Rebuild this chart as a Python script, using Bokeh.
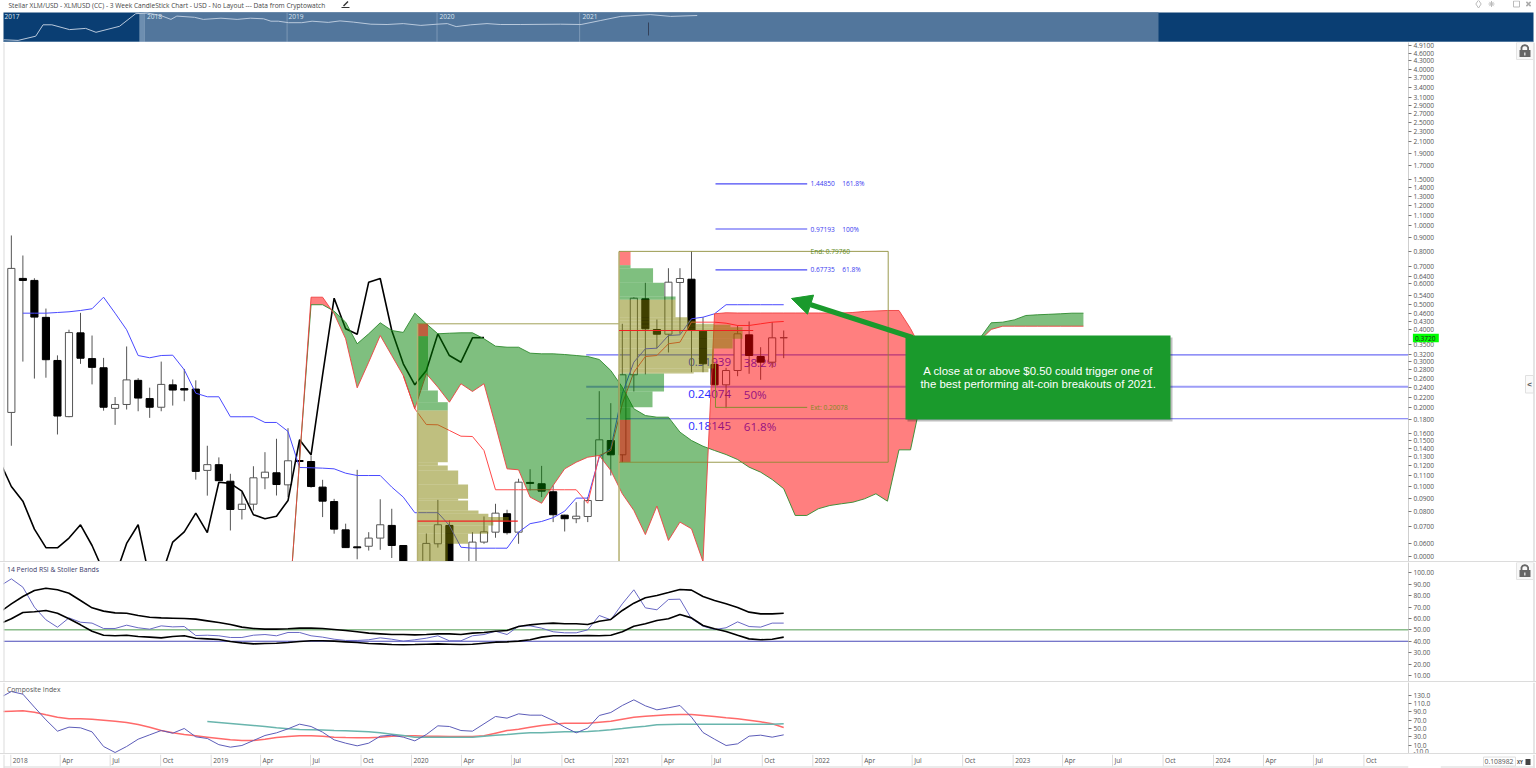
import numpy as np
import pandas as pd
from bokeh.core.properties import value
from bokeh.embed import file_html
from bokeh.layouts import column, row
from bokeh.models import (Arrow, Div, FixedTicker, NormalHead, PrintfTickFormatter,
                          Range1d, Span)
from bokeh.plotting import figure
from bokeh.resources import INLINE

FONT = value("Open Sans")
TITLE = "Stellar XLM/USD - XLMUSD (CC) - 3 Week CandleStick Chart - USD - No Layout --- Data from Cryptowatch"

# ---------- candles, one every 21 days from 2018-01-02
opens = [.192,.628,.617,.445,.304,.185,.388,.309,.285,.199,
         .206,.255,.217,.201,.245,.237,.236,.115,.121,.1045,
         .0814,.0853,.1077,.1126,.1012,.1255,.1244,.0992,.0873,.068,
         .0585,.0588,.0632,.0707,.0592,.046,.049,.0601,.0707,.047,
         .05,.061,.0666,.0784,.0666,.1034,.1022,.0952,.0774,.075,
         .0765,.0881,.1498,.132,.2678,.5244,.3997,.3834,.6058,.6236,
         .3938,.2933,.2451,.2782,.3813,.3148,.2994,.3714]
highs = [.918,.769,.629,.481,.318,.399,.463,.379,.311,.220,
         .344,.260,.239,.301,.257,.282,.255,.143,.129,.1116,
         .0949,.1193,.1351,.1521,.167,.1511,.1312,.1058,.0894,.0718,
         .1156,.0666,.0891,.0819,.0592,.049,.0658,.0886,.0739,.05,
         .0666,.0765,.0856,.0812,.1068,.1162,.1197,.1007,.0777,.0868,
         .0908,.2317,.2084,.4204,.5319,.604,.4368,.6873,.6873,.7976,
         .4457,.296,.2849,.4142,.4291,.3418,.4265,.3962]
lows = [.143,.301,.259,.261,.158,.184,.295,.246,.195,.172,
        .197,.194,.183,.194,.204,.212,.106,.092,.105,.0676,
        .0745,.0807,.0974,.0921,.0908,.1201,.0987,.0761,.0657,.058,
        .0524,.0566,.057,.053,.042,.04,.046,.0581,.045,.044,
        .047,.0601,.0634,.0652,.0601,.0963,.0908,.0728,.067,.0721,
        .0728,.0881,.1099,.1236,.2311,.2689,.338,.3262,.385,.274,
        .274,.2451,.1994,.2645,.2702,.2562,.2849,.3102]
closes = [.686,.617,.446,.306,.186,.389,.310,.286,.201,.206,
          .256,.218,.201,.246,.234,.234,.114,.121,.105,.0814,
          .0853,.1077,.1132,.1015,.1252,.1244,.0997,.0876,.0684,.0581,
          .058,.0632,.0711,.0592,.047,.045,.0603,.0711,.044,.045,
          .061,.0668,.0788,.0663,.1036,.1025,.0957,.0777,.075,.0767,
          .0881,.1507,.132,.2678,.5272,.4022,.3834,.6073,.6275,.3962,
          .2951,.2451,.2782,.3848,.3176,.2994,.3714,.372]

# ---------- Ichimoku lines
tenkan = [.4618,.4618,.4618,.4646,.4675,.4729,.4801,.5319,.4618,.3987,
          .3176,.3113,.3176,.3185,.28,.2276,.2205,.2205,.1848,.1848,
          .1848,.1757,.1757,.1623,.118,.1177,.1173,.1166,.1122,.1099,
          .1099,.1099,.0992,.0908,.0791,.0791,.0791,.0707,.0583,.0578,
          .0578,.0578,.0578,.0666,.0718,.0732,.0757,.0802,.09,.09,
          .1292,.1396,.227,.2994,.337,.3388,.379,.3813,.4395,.4457,
          .4593,.4976,.4976,.4976,.4976,.4976,.4976]
kijun = [.2659,.1983,.1725,.1721,.1637,.1556,.1552,.1371,.0969,.0969,
         .0969,.0969,.0969,.0969,.0969,.0969,.086,.1312,.1371,.2072,
         .274,.3148,.3176,.3523,.3573,.4265,.4265,.4265,.4227,.4142,
         .4142,.4204,.4265,.4291]
span_a = [.03,.1255,.4976,.4976,.47,.4265,.3523,.3848,.4242,.3962,
          .3895,.4618,.4204,.3848,.3868,.3882,.3882,.3682,.3449,.3418,
          .3418,.3242,.3224,.3224,.3204,.3176,.3148,.3066,.2782,.24,
          .1983,.1868,.1841,.1841,.1613,.1498,.1424,.1371,.1323,.1266,
          .1183,.1132,.1061,.0978,.0772,.0772,.0819,.0843,.0856,.0868,
          .0894,.0935,.0876,.1379,.1379,.2231,.2546,.2733,.3039,.338,
          .369,.4242,.4265,.4352,.4524,.4552,.4572,.4593,.4618,.4618]
span_b = [.03,.1255,.5319,.5319,.4593,.3682,.2387,.2994,.379,.3176,
          .2659,.1983,.2702,.24,.2102,.2474,.2311,.2474,.1711,.1166,
          .1156,.0908,.086,.1007,.1166,.1236,.1292,.1312,.1149,.0935,
          .0807,.0652,.0839,.0619,.0728,.0686,.0513,.4593,.4634,.4625,
          .4625,.4625,.4625,.4625,.4625,.4625,.4625,.4625,.4625,.4646,
          .4689,.4708,.4729,.4729,.4033,.332,.3176,.3176,.332,.3477,
          .3627,.4,.4116,.4116,.4116,.4116,.4116,.4116,.4116,.4116]

# ---------- volume profiles: (top price, bottom price, length in days)
vp1_start = "2020-01-12"
vp1_red = [(.4204,.3767,19)]
vp1_green = [(.3767,.2331,19),(.2331,.2102,37),(.2102,.1953,55)]
vp1_olive = [(.1953,.1236,55),(.1236,.1201,37),(.1201,.1149,55),(.1149,.1015,74),(.1015,.0894,92),
             (.0894,.0881,74),(.0881,.0807,92),(.0807,.0784,111),(.0784,.0761,129),(.0761,.0734,166),
             (.0734,.0707,138),(.0707,.0657,129),(.0657,.0601,92),(.0601,.04,55)]
vp2_start = "2021-01-13"
vp2_red = [(.7976,.7058,21),(.1799,.1236,21)]
vp2_green = [(.7058,.6873,21),(.6873,.604,62),(.604,.5352,82),(.5352,.5198,103),
             (.2708,.2311,82),(.2311,.2008,61),(.2008,.1799,21)]
vp2_olive = [(.5198,.4457,103),(.4457,.4329,125),(.4329,.4204,140),(.4204,.4167,173),(.4167,.4081,203),
             (.4081,.3682,225),(.3682,.338,207),(.338,.2832,173),(.2832,.274,163),(.274,.2708,136)]

# ---------- fibonacci levels
fib_long = [(.31939,"0.31939","38.2%"),(.24074,"0.24074","50%"),(.18145,"0.18145","61.8%")]
fib_short = [(1.4485,"1.44850","161.8%"),(.97193,"0.97193","100%"),(.67735,"0.67735","61.8%")]

# ---------- RSI panel, from one step before the first candle
rsi = [88.3,94.7,87.4,69.9,58.8,52.3,60.5,56.7,55.9,51.2,51.2,54.1,51.8,50.6,53.5,52.6,52.9,45,
       45.3,44.8,43.3,43.3,45.3,45.9,44.8,47.7,47.7,44.8,43.6,41.8,40.7,40.7,41.3,43,41.8,40.1,
       41.3,42.7,44.8,40.4,40.4,44.8,45.9,48.8,45.9,53.2,53.5,51.5,48.3,47.4,47.4,50,62.6,58.8,
       72.8,85.1,69.3,67.6,76.6,76.9,59.7,53.2,50.3,51.8,57,52.9,52.4,55.9,55.9]
band_up = [65.5,72.8,79.2,84.5,86.5,85.1,82.1,75.7,69.3,66.4,64.9,64.6,62.6,61.1,60.5,60.2,59.9,59.4,
           57.9,56.4,54.7,52.4,51.2,50.6,50.6,50.9,51.5,51.5,51.2,50.3,49.4,48.3,47.1,46.5,45.9,45.9,
           45.6,45.9,46.5,46.5,45.9,47.1,47.7,48.8,49.4,52.9,54.4,55.3,55.9,55.3,55.3,54.7,57.6,59.1,
           67,73.4,78.1,80.1,82.7,85.4,84.8,79.2,75.7,72.8,69.6,65.5,64,64,64.6]
band_lo = [55.3,59.7,65.2,65.8,67,64.6,59.7,54.4,48.8,45.3,44.8,45.3,44.2,43.6,43,44.2,44.8,42.7,
           42.1,41.5,39.8,38.6,37.7,38,38.3,38.9,39.8,40.4,40.4,40.1,39.5,38.9,38,37.7,37.1,36.9,
           37.1,37.4,37.7,37.4,37.1,37.4,38.3,39.2,39.5,40.1,41.3,43.6,44.8,44.8,44.8,45,44.8,45.3,
           48.3,53.2,55.3,58.2,59.7,63.5,60.5,53.8,50.9,48.6,45.3,42.1,41.3,41.8,43.6]

# ---------- composite index panel
comp = [123.7,138.9,132.5,101.2,70.6,43.3,53,51.4,41.7,6.4,-8.1,6.4,24,34.5,44.9,38.5,49.8,29.7,
        25.7,10.8,4.8,8.8,20.8,32.9,39.3,49,60.2,54.6,40.9,22.4,14.4,8,14.4,31.3,33.7,28.9,
        20,35.3,56.2,54.6,44.9,43.3,61,78.7,74.7,85.1,81.9,81.9,69,53,39.3,50.6,81.1,88.3,
        105.2,118.8,104.4,94.7,99.6,105.2,77.1,40.1,24,8.8,12.8,31.3,33.7,28.9,34.5]
comp_fast = [90.7,91.5,92.3,89.1,82.7,77.1,73,73,72.3,69.9,67.4,64.2,59.4,53,44.9,39.3,35.3,32.1,
             28.9,25.7,22.4,20.8,20.8,24,28,30.5,32.1,32.1,31.3,28.9,28,27.3,27.3,28.9,31.3,32.1,
             32.1,31.3,31.3,30.5,30.5,30.5,32.1,38.5,44.9,48.2,53,57,60.2,62.6,62.6,62.6,65,67.4,
             72.3,77.1,79.5,81.1,82.7,83.5,83.5,81.1,78.7,75.5,73,69.9,65.8,61,52.2]
comp_slow = [66.6,64.2,61.8,59.4,57,54.6,51.4,49,47.3,46.7,45.9,44.9,44.1,43.3,41.7,39.3,36.1,32.9,
             28.9,28.9,28.9,28.9,28.9,28.9,31.3,33.7,35.3,37.7,39.3,39.3,40.9,41.7,41.7,42.6,44.1,46.7,
             49.8,53,55.4,58.6,59.4,60.2,60.2,60.2,60.2,60.2,60.2,60.2,60.2,60.2,61]

# ---------- axes
price_ticks = [4.91,4.6,4.3,4.0,3.7,3.4,3.1,2.9,2.7,2.5,2.3,2.1,1.9,1.7,1.5,1.4,1.3,1.2,1.1,1.0,.9,.8,.7,
               .64,.6,.54,.5,.46,.43,.4,.35,.32,.3,.28,.26,.24,.22,.2,.18,.16,.15,.14,.13,.12,.11,.1,
               .09,.08,.07,.06,.0537]
rsi_ticks = [100,90,80,70,60,50,40,30,20,10]
comp_ticks = [130,110,90,70,50,30,10,-10]
x_labels = ["2018","Apr","Jul","Oct","2019","Apr","Jul","Oct","2020","Apr","Jul","Oct","2021","Apr","Jul","Oct",
            "2022","Apr","Jul","Oct","2023","Apr","Jul","Oct","2024","Apr","Jul","Oct"]
x_ticks = pd.date_range("2018-01-01", periods=len(x_labels), freq="QS")

# ---------- overview strip: fractional year, relative level
nav_year = [2017.04,2017.14,2017.26,2017.31,2017.37,2017.49,2017.60,2017.67,2017.83,2017.94,2018.02,2018.11,2018.18,
            2018.22,2018.34,2018.40,2018.52,2018.63,2018.72,2018.81,2018.86,2018.91,2018.98,2019.07,2019.14,2019.25,
            2019.33,2019.42,2019.54,2019.65,2019.76,2019.88,2019.99,2020.06,2020.12,2020.22,2020.33,2020.42,2020.56,
            2020.83,2020.97,2021.10,2021.24,2021.44,2021.58,2021.76]
nav_level = [.09,.07,.21,.59,.59,.43,.47,.34,.54,.96,.98,.90,.77,.88,.84,.77,.81,.77,.81,.79,.71,.71,.66,.66,.71,.67,
             .72,.68,.61,.60,.63,.57,.61,.63,.53,.59,.63,.60,.60,.61,.60,.73,.87,.93,.87,.90]

DAY = 86400000.0
PX_PER_DAY = 200.5 / 365.25
def ms(s):
    return pd.Timestamp(s).value / 1e6
T18 = ms("2018-01-01")
T0 = ms("2018-01-02")
def bar_x(first, n):
    return T0 + (first + np.arange(n)) * 21 * DAY
def x_at(px):
    return T18 + (px - 10.3) / PX_PER_DAY * DAY
def p_at(py):
    return 10 ** ((225.3 - py) / 260.4)

X_RANGE = (x_at(3), x_at(1408))

def base(h, **kw):
    p = figure(width=1440, height=h, output_backend="svg", toolbar_location=None,
               x_axis_location=None, y_axis_location="right",
               x_range=Range1d(*X_RANGE), min_border_left=3, min_border_right=32,
               min_border_top=0, min_border_bottom=0, outline_line_color=None,
               background_fill_color="white", border_fill_color="white", **kw)
    p.grid.visible = False
    p.add_layout(Span(location=X_RANGE[0], dimension="height", line_color="#dcdcdc", line_width=2))
    return p

def style_axis(ax, ticks, fmt):
    ax.ticker = FixedTicker(ticks=ticks)
    ax.formatter = PrintfTickFormatter(format=fmt)
    ax.axis_line_color = "#cfcfcf"
    ax.major_tick_line_color = "#777777"
    ax.major_tick_out = 3
    ax.major_tick_in = 0
    ax.minor_tick_line_color = None
    ax.major_label_standoff = 2
    ax.major_label_text_font = "Open Sans"
    ax.major_label_text_font_size = "6.6px"
    ax.major_label_text_color = "#555555"

# ---------- main panel
main = base(519, y_axis_type="log", y_range=Range1d(p_at(561), p_at(42)))
style_axis(main.yaxis[0], price_ticks, "%.4f")
main.yaxis[0].major_label_overrides = {.0537: "0.0000"}

for lvl, name, pct in fib_long:
    thick = pct == "50%"
    main.line([x_at(585.7), x_at(1408)], [lvl, lvl], line_color="#3c3cf0", line_alpha=.5 if thick else .75,
              line_width=2 if thick else 1.1)
    main.text([x_at(687.7)], [lvl], text=[name], y_offset=7.5, text_font=FONT, text_font_size="11.6px",
              text_color="#2a2aff", text_baseline="middle")
    main.text([x_at(743.3)], [lvl], text=[pct], y_offset=7.5, text_font=FONT, text_font_size="11.6px",
              text_color="#2a2aff", text_baseline="middle")

xs = bar_x(0, len(closes))
o, h, l, c = map(np.array, (opens, highs, lows, closes))
up = c >= o
main.segment(xs, l, xs, h, line_color="#555555", line_width=1)
BW = 13 * DAY
main.vbar(xs[up], BW, c[up], o[up], fill_color="white", line_color="#555555", line_width=1)
main.vbar(xs[~up], BW, o[~up], c[~up], fill_color="black", line_color="black", line_width=1)

main.line(bar_x(25 - 26, len(closes) - 25), closes[25:], line_color="black", line_width=1.6)
main.line(bar_x(1, len(tenkan)), tenkan, line_color="#4a4aff", line_width=1)
main.line(bar_x(34, len(kijun)), kijun, line_color="#ff4a4a", line_width=1)

# cloud, with the points where the two spans cross
cx = bar_x(24, len(span_a))
cxs, ca, cb = [], [], []
for i in range(len(cx)):
    cxs.append(cx[i]); ca.append(span_a[i]); cb.append(span_b[i])
    if i + 1 < len(cx):
        d0 = np.log(span_a[i] / span_b[i])
        d1 = np.log(span_a[i + 1] / span_b[i + 1])
        if d0 * d1 < 0:
            f = d0 / (d0 - d1)
            y = span_a[i] * (span_a[i + 1] / span_a[i]) ** f
            cxs.append(cx[i] + f * (cx[i + 1] - cx[i])); ca.append(y); cb.append(y)
cxs, ca, cb = map(np.array, (cxs, ca, cb))
top = np.maximum(ca, cb)
main.varea(cxs, cb, top, fill_color="#008000", fill_alpha=.5)
main.varea(cxs, ca, top, fill_color="#ff0000", fill_alpha=.5)
main.line(cx, span_a, line_color="#2e8b2e", line_width=1, line_alpha=.9)
main.line(cx, span_b, line_color="#f04040", line_width=1, line_alpha=.9)

def draw_profile(start, rows, color):
    s = ms(start)
    main.quad(left=s, right=[s + r[2] * DAY for r in rows], top=[r[0] for r in rows],
              bottom=[r[1] for r in rows], fill_color=color, fill_alpha=.5, line_color=None)
for st, red, green, olive in ((vp1_start, vp1_red, vp1_green, vp1_olive), (vp2_start, vp2_red, vp2_green, vp2_olive)):
    draw_profile(st, red, "#ff0000")
    draw_profile(st, green, "#008000")
    draw_profile(st, olive, "#808000")

# fibonacci frames
OL = "#8a8a30"
s1, s2 = ms(vp1_start), ms(vp2_start)
box_right = x_at(887.7)
main.line([s1, s2], [.4204, .4204], line_color=OL, line_width=1, line_alpha=.8)
main.line([s1, s1], [.4204, .04], line_color="#b5b070", line_width=1.5)
main.line([s2, s2], [.7976, .04], line_color="#b5b070", line_width=1.5)
main.line([s2, box_right, box_right, s2], [.7976, .7976, .1236, .1236], line_color=OL, line_width=1, line_alpha=.85)
main.segment([s1, s2], [.0734, .3962], [x_at(517.3), x_at(752.7)], [.0734, .3962], line_color="#f02020", line_width=1.1)

f0, f1, ft = x_at(715), x_at(806.7), x_at(810)
for lvl, name, pct in fib_short:
    main.line([f0, f1], [lvl, lvl], line_color="#4a4af5", line_width=1.1)
    main.text([ft], [lvl], text=[name], text_font=FONT, text_font_size="6.6px", text_color="#3a3af0", text_baseline="middle")
    main.text([x_at(841.7)], [lvl], text=[pct], text_font=FONT, text_font_size="6.6px", text_color="#3a3af0", text_baseline="middle")
main.line([f0, f0, f1], [p_at(363), .2008, .2008], line_color=OL, line_width=1)
main.text([ft], [.7976], text=["End: 0.79760"], text_font=FONT, text_font_size="6.6px", text_color="#5e8a20", text_baseline="middle")
main.text([ft], [.2008], text=["Ext: 0.20078"], text_font=FONT, text_font_size="6.6px", text_color="#7f8a20", text_baseline="middle")

# call-out
GREEN = "#1a9a2c"
main.quad(left=x_at(907), right=x_at(1172), top=p_at(337), bottom=p_at(421), fill_color="#000000", fill_alpha=.25, line_color=None)
main.add_layout(Arrow(end=NormalHead(size=20, fill_color=GREEN, line_color=GREEN), line_color=GREEN, line_width=5,
                      x_start=x_at(912), y_start=p_at(337), x_end=x_at(791), y_end=p_at(298)))
main.quad(left=x_at(905), right=x_at(1170), top=p_at(335), bottom=p_at(419), fill_color=GREEN, line_color=None)
cxt = x_at(1037.7)
main.text([cxt, cxt], [p_at(370), p_at(383.5)],
          text=["A close at or above $0.50 could trigger one of", "the best performing alt-coin breakouts of 2021."],
          text_font=value("Liberation Sans"), text_font_size="11.4px", text_color="white",
          text_align="center", text_baseline="middle")

# ---------- RSI panel
px_rsi = lambda py: 100 - (py - 572.3) / 1.141
rsi_p = base(119, y_range=Range1d(px_rsi(681), px_rsi(562)))
style_axis(rsi_p.yaxis[0], rsi_ticks, "%.2f")
rx = bar_x(-1, len(rsi))
rsi_p.line([X_RANGE[0], X_RANGE[1]], [50, 50], line_color="#4f9a4f", line_width=1)
rsi_p.line([X_RANGE[0], X_RANGE[1]], [40, 40], line_color="#4a4ab8", line_width=1.2)
rsi_p.line(rx, rsi, line_color="#6868c4", line_width=1)
rsi_p.line(rx, band_up, line_color="black", line_width=1.6)
rsi_p.line(rx, band_lo, line_color="black", line_width=1.6)
rsi_p.text([x_at(6.5)], [px_rsi(569.3)], text=["14 Period RSI & Stoller Bands"], text_font=FONT, text_font_size="6.8px",
           text_color="#3a3a6a", text_baseline="middle")

# ---------- composite panel
px_comp = lambda py: 130 - (py - 694.7) / .415
comp_p = base(71, y_range=Range1d(px_comp(753), px_comp(682)))
style_axis(comp_p.yaxis[0], comp_ticks, "%.1f")
comp_p.line(rx, comp_fast, line_color="#ff6a6a", line_width=1.5)
comp_p.line(bar_x(17, len(comp_slow)), comp_slow, line_color="#69b5ad", line_width=1.5)
comp_p.line(rx, comp, line_color="#5c5cb8", line_width=1)
comp_p.text([x_at(6.5)], [px_comp(688.7)], text=["Composite Index"], text_font=FONT, text_font_size="6.8px",
            text_color="#555555", text_baseline="middle")

# ---------- date band
band = base(14, y_range=Range1d(768, 754))
band.yaxis.visible = False
tx = [t.value / 1e6 for t in x_ticks]
band.segment(tx, 754, tx, 766, line_color="#dddddd", line_width=1)
band.text(tx, 760, text=x_labels, x_offset=2, text_font=FONT, text_font_size="6.6px", text_color="#555555",
          text_baseline="middle")
band.line(list(X_RANGE), [766.5, 766.5], line_color="#e4e4e4", line_width=1.5)

# ---------- right-hand chrome
def strip(h, y0, y1):
    p = figure(width=96, height=h, output_backend="svg", toolbar_location=None, x_axis_location=None,
               y_axis_location=None, x_range=Range1d(1440, 1536), y_range=Range1d(y1, y0),
               min_border=0, outline_line_color=None, background_fill_color="white", border_fill_color="white")
    p.grid.visible = False
    p.line([1533.5, 1533.5], [y0, y1], line_color="#dcdcdc", line_width=1.5)
    return p

def lock(p, y):
    p.quad(left=1516, right=1533, top=y, bottom=y + 17, fill_color="#f8f8f8", line_color="#e4e4e4")
    p.line([1521, 1521, 1522, 1524.3, 1526.6, 1527.6, 1527.6], [y + 8, y + 5, y + 3.4, y + 2.6, y + 3.4, y + 5, y + 8],
           line_color="#666666", line_width=1.8)
    p.quad(left=1519, right=1530, top=y + 7.5, bottom=y + 14.5, fill_color="#666666", line_color=None)
    p.quad(left=1523.8, right=1524.9, top=y + 10, bottom=y + 13, fill_color="white", line_color=None)

# the main strip reaches back over the axis gutter, transparent, to carry the last-price tag
st_main = figure(width=124, height=519, output_backend="svg", toolbar_location=None, x_axis_location=None,
                 y_axis_location=None, x_range=Range1d(1412, 1536), y_range=Range1d(561, 42),
                 min_border=0, outline_line_color=None, background_fill_alpha=0, border_fill_alpha=0,
                 margin=(0, 0, 0, -28))
st_main.grid.visible = False
st_main.line([1533.5, 1533.5], [42, 561], line_color="#dcdcdc", line_width=1.5)
st_main.quad(left=1412.3, right=1438.3, top=333.3, bottom=341.7, fill_color="#00ff00", line_color=None)
st_main.text([1414.5], [337.5], text=["0.3720"], text_font=FONT, text_font_size="6.6px", text_color="#222222",
             text_baseline="middle")
lock(st_main, 42)
st_main.quad(left=1525, right=1533, top=375, bottom=392.5, fill_color="#fafafa", line_color="#e0e0e0")
st_main.text([1529], [383.5], text=["<"], text_font=value("Liberation Sans"), text_font_size="8px", text_font_style="bold",
             text_color="#555555", text_align="center", text_baseline="middle")
st_rsi = strip(119, 562, 681)
lock(st_rsi, 562)
st_comp = strip(71, 682, 753)
st_band = strip(14, 754, 768)
st_band.line([1440, 1533], [766.5, 766.5], line_color="#e4e4e4", line_width=1.5)
st_band.quad(left=1483, right=1515, top=756.5, bottom=765.5, fill_color="white", line_color="#e0e0e0")
st_band.text([1484], [761], text=["0.108982"], text_font=FONT, text_font_size="6.8px", text_color="#555555", text_baseline="middle")
st_band.text([1516.5], [761], text=["XY"], text_font=FONT, text_font_size="4.5px", text_font_style="bold", text_color="#444444", text_baseline="middle")
st_band.quad(left=1525, right=1530, top=758.5, bottom=764.5, fill_color="#444444", line_color=None)

# ---------- title and overview
tx_px = lambda px: 2018 + (px - 144) / 147
vy_px = lambda py: (42 - py) / 30
top_p = figure(width=1536, height=42, output_backend="svg", toolbar_location=None, x_axis_location=None,
               y_axis_location=None, x_range=Range1d(tx_px(0), tx_px(1536)), y_range=Range1d(0, vy_px(0)),
               min_border=0, outline_line_color=None, background_fill_color="white", border_fill_color="white")
top_p.grid.visible = False
top_p.quad(left=tx_px(3), right=tx_px(1533), top=1, bottom=0, fill_color="#0a3e73", line_color=None)
top_p.quad(left=tx_px(139), right=tx_px(1158), top=1, bottom=0, fill_color="#52769c", line_color=None)
top_p.segment([2018, 2018.97, 2019.99, 2020.96], 0, [2018, 2018.97, 2019.99, 2020.96], 1, line_color="#7c98b6", line_width=1)
top_p.quad(left=tx_px(139), right=tx_px(144), top=1, bottom=0, fill_color="#6d8eb0", line_color=None)
top_p.line(nav_year, nav_level, line_color="#b9c9dc", line_width=1)
top_p.line([tx_px(648), tx_px(648)], [vy_px(22), vy_px(35)], line_color="#33415a", line_width=1)
top_p.text([tx_px(4), tx_px(146.5), tx_px(288), tx_px(439), tx_px(582)], [vy_px(16)] * 5,
           text=["2017", "2018", "2019", "2020", "2021"], text_font=FONT, text_font_size="6.6px",
           text_color="#dbe4ee", text_baseline="middle")
top_p.line([tx_px(3), tx_px(1533)], [vy_px(41.6)] * 2, line_color="#b8c8dc", line_width=1)
top_p.text([tx_px(8)], [vy_px(4.5)], text=[TITLE], text_font=FONT, text_font_size="6.6px", text_color="#444444", text_baseline="middle")
top_p.line([tx_px(341), tx_px(349)], [vy_px(7), vy_px(7)], line_color="#333333", line_width=1)
top_p.line([tx_px(343), tx_px(347.5)], [vy_px(5.5), vy_px(1)], line_color="#333333", line_width=1.5)
top_p.scatter([tx_px(1478)], [vy_px(3.5)], marker="diamond", size=8, fill_color=None, line_color="#bbbbbb")
top_p.scatter([tx_px(1491)], [vy_px(3.5)], marker="asterisk", size=6, line_color="#bbbbbb")
top_p.scatter([tx_px(1516)], [vy_px(3.5)], marker="square", size=6, fill_color=None, line_color="#bbbbbb")
top_p.scatter([tx_px(1528)], [vy_px(3.5)], marker="x", size=6, line_color="#aaaaaa", line_width=1.5)

def rule():
    return Div(width=1536, height=1, margin=0, styles={"background": "#dcdcdc"})

page = column(top_p, row(main, st_main), rule(), row(rsi_p, st_rsi), rule(), row(comp_p, st_comp), rule(), row(band, st_band),
              margin=0)
open("out.html", "w").write(file_html(page, INLINE))
